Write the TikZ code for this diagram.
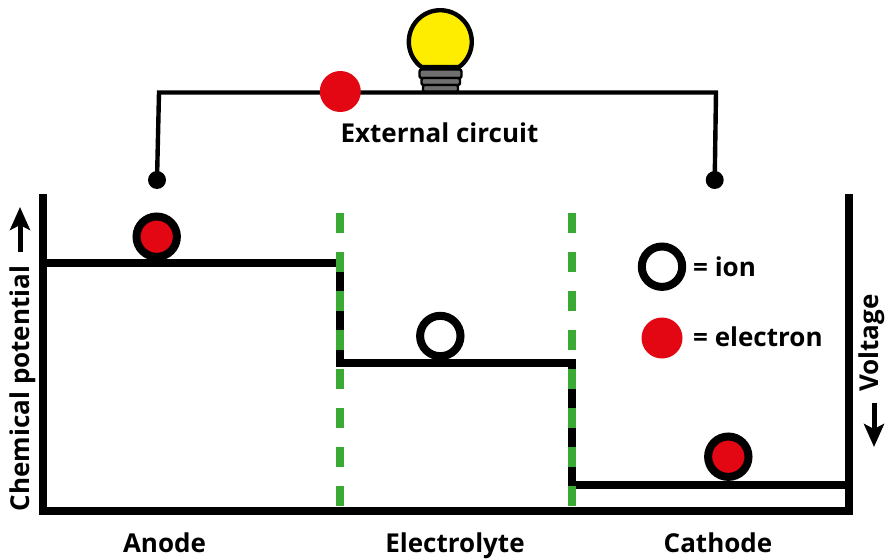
\documentclass[tikz,border=0pt]{standalone}
\usepackage{fontspec}
\setmainfont{Open Sans}[BoldFont={Open Sans Bold}]
\usetikzlibrary{arrows.meta}
\definecolor{myred}{HTML}{E30613}
\definecolor{myyellow}{HTML}{FFED00}
\definecolor{mygreen}{HTML}{3AAA35}
\definecolor{mygray}{HTML}{6F6F6F}
\tikzset{
  level/.style={line width=8pt,line cap=butt,line join=miter},
  wire/.style={line width=4.4pt,line join=miter},
  barrier/.style={line width=8pt,mygreen,dash pattern=on 19.5pt off 19.5pt},
  lbl/.style={font=\bfseries\fontsize{26}{26}\selectfont,inner sep=0pt,anchor=base},
  ring/.style={circle,draw=black,line width=8pt,minimum size=40.4pt,inner sep=0pt,fill=white},
  redring/.style={ring,fill=myred},
  electron/.style={circle,fill=myred,minimum size=41pt,inner sep=0pt},
  term/.style={circle,fill=black,minimum size=18pt,inner sep=0pt},
  screw/.style={fill=mygray,draw=black,line width=2.4pt,rounded corners=2pt},
  bigarrow/.style={line width=5pt,-{Stealth[length=23pt,width=20pt,inset=5pt]}}
}
\begin{document}
\begin{tikzpicture}[x=1pt,y=-1pt]
\useasboundingbox (0,0) rectangle (885,559);
% axes
\coordinate (axTL) at (43,194);
\coordinate (axBL) at (43,511);
\coordinate (axBR) at (848.5,511);
\coordinate (axTR) at (848.5,194);
\draw[level] (axTL) -- (axBL) -- (axBR) -- (axTR);
% potential levels
\coordinate (a0) at (43,263);
\coordinate (a1) at (339.5,263);
\coordinate (a2) at (339.5,362.7);
\coordinate (a3) at (571.7,362.7);
\coordinate (a4) at (571.7,485);
\coordinate (a5) at (848.5,485);
\draw[level] (a0) -- (a1) -- (a2) -- (a3) -- (a4) -- (a5);
% barriers
\coordinate (b1t) at (339.5,213.3);
\coordinate (b1b) at (339.5,506);
\coordinate (b2t) at (571.7,213.3);
\coordinate (b2b) at (571.7,506);
\draw[barrier] (b1t) -- (b1b);
\draw[barrier] (b2t) -- (b2b);
% circuit
\node[term] (dotL) at (157,180) {};
\node[term] (dotR) at (714.7,180) {};
\coordinate (cL) at (159,92.5);
\coordinate (cR) at (716,92.5);
% bulb
\draw[screw] (419.5,69.5) rectangle (461.5,78);
\draw[screw] (421.5,78) rectangle (460,85);
\draw[screw] (423,85) rectangle (458,92);
\draw[fill=myyellow,line width=4.4pt,line join=round] (458.8,67.2) arc[start angle=54,end angle=-234,radius=31.5] -- cycle;
\draw[wire] (dotL.center) -- (cL) -- (cR) -- (dotR.center);
\node[electron] (moving) at (340.3,91.5) {};
\node[lbl] (ext) at (439.5,142) {External circuit};
% particles
\node[redring] (pA) at (156.7,236.7) {};
\node[ring] (pE) at (440.3,336) {};
\node[redring] (pC) at (728.3,456.7) {};
% legend
\node[ring] (legI) at (662,266.7) {};
\node[electron] (legE) at (662,338) {};
\node[lbl,anchor=base west] (tI) at (693,276) {= ion};
\node[lbl,anchor=base west] (tE) at (693,346) {= electron};
% bottom labels
\node[lbl] (lA) at (164.5,552) {Anode};
\node[lbl] (lE) at (455,552) {Electrolyte};
\node[lbl] (lC) at (718,552) {Cathode};
% side labels
\node[lbl,rotate=90] (chem) at (29,388.5) {Chemical potential};
\node[lbl,rotate=90] (volt) at (878,343) {Voltage};
\coordinate (upS) at (20,252);
\coordinate (upE) at (20,207);
\draw[bigarrow] (upS) -- (upE);
\coordinate (dnS) at (874,403);
\coordinate (dnE) at (874,447);
\draw[bigarrow] (dnS) -- (dnE);
\end{tikzpicture}
\end{document}
